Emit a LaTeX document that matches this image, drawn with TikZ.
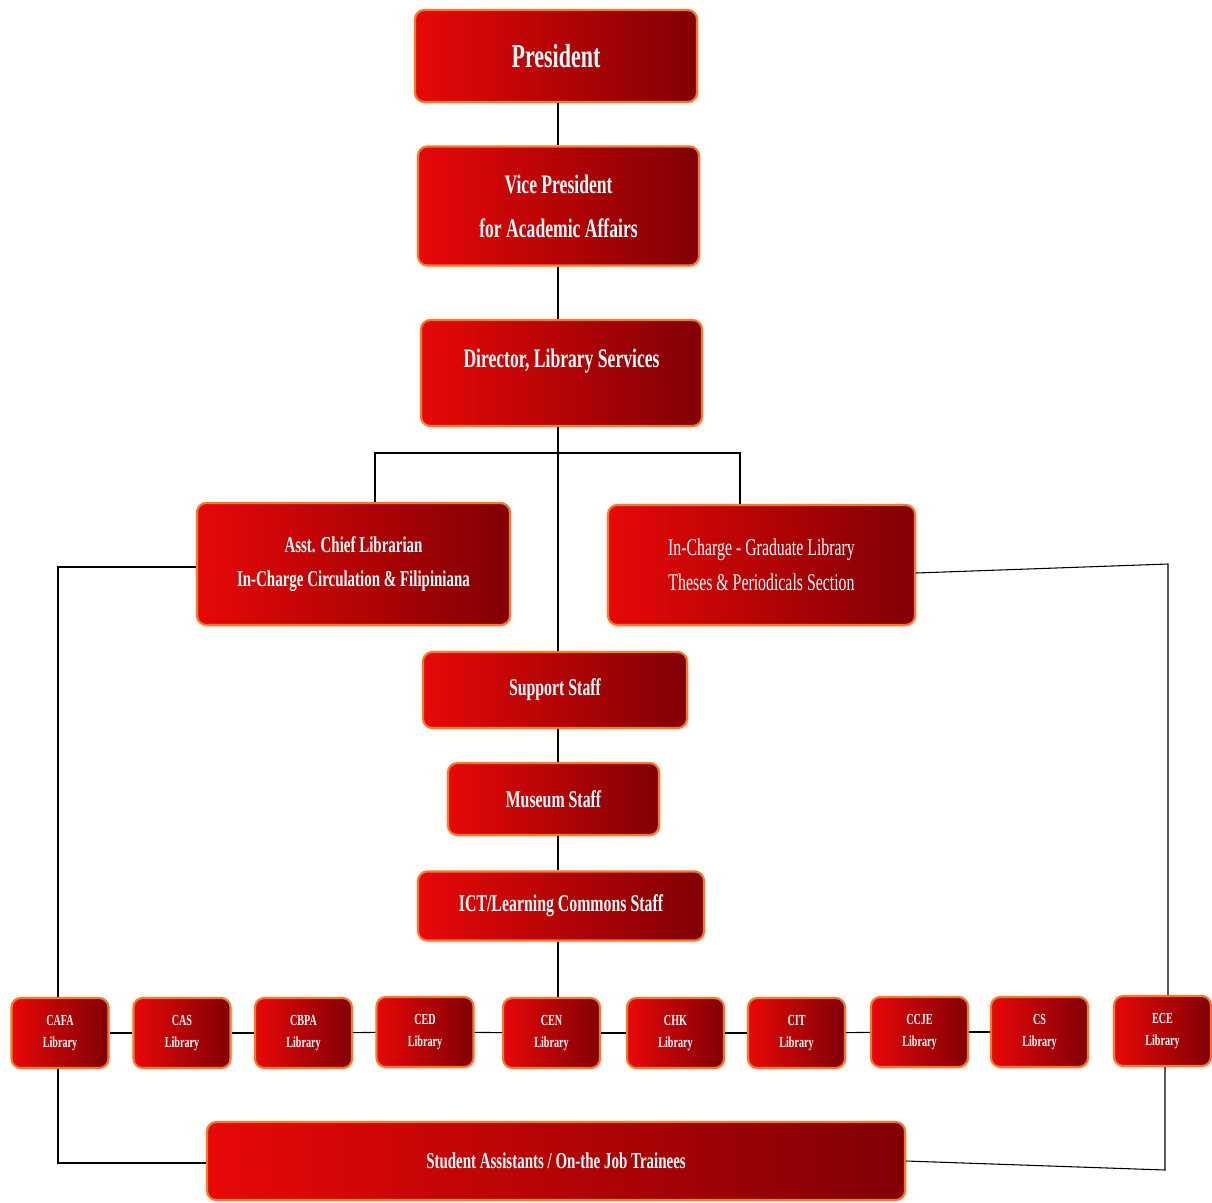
\documentclass[tikz,border=0pt]{standalone}
\usepackage{fontspec}
\usepackage{tikz}
\usetikzlibrary{shadows}
\newfontfamily\boxfont[FakeStretch=0.66]{Liberation Serif}
\definecolor{boxred}{RGB}{232,8,8}
\definecolor{boxdark}{RGB}{128,0,4}
\definecolor{boxrim}{RGB}{246,120,40}
\tikzset{
  box/.style={rounded corners=7pt, draw=boxrim, line width=1.6pt,
    left color=boxred, right color=boxdark, text=white, align=center,
    font=\boxfont\bfseries, inner sep=2pt,
    drop shadow={opacity=0.18, shadow xshift=1.5pt, shadow yshift=-1.5pt}},
  libbox/.style={box, minimum width=72.75pt, minimum height=52.5pt,
    font=\boxfont\bfseries\fontsize{11.5}{16}\selectfont},
  link/.style={draw=black, line width=0.8pt}
}

\begin{document}
\begin{tikzpicture}[x=0.75pt,y=0.75pt,yscale=-1,xscale=1]
\useasboundingbox (0,0) rectangle (1212,1202);
%Spine of the chart
\coordinate (spine) at (558,0);

%Rounded Rect [President]
\node[box, minimum width=211.5pt, minimum height=69pt, font=\boxfont\bfseries\fontsize{25}{27}\selectfont] (pres) at (556,56) {President};
%Rounded Rect [Vice President]
\node[box, minimum width=210.75pt, minimum height=89.25pt, font=\boxfont\bfseries\fontsize{20}{33}\selectfont] (vpaa) at (558.5,206) {Vice President\\for Academic Affairs};
%Rounded Rect [Director]
\node[box, minimum width=210.75pt, minimum height=79.5pt, font=\boxfont\bfseries\fontsize{20}{24}\selectfont, text depth=22pt] (dir) at (561.5,373) {Director, Library Services};
%Rounded Rect [Asst. Chief]
\node[box, minimum width=234.75pt, minimum height=91.5pt, font=\boxfont\bfseries\fontsize{17}{26}\selectfont] (asst) at (353.5,564) {Asst. Chief Librarian\\In-Charge Circulation \& Filipiniana};
%Rounded Rect [Graduate Library]
\node[box, minimum width=230.25pt, minimum height=90pt, font=\boxfont\fontsize{18}{26}\selectfont] (grad) at (761.5,565) {In-Charge - Graduate Library\\Theses \& Periodicals Section};
%Rounded Rect [Support Staff]
\node[box, minimum width=198pt, minimum height=57pt, font=\boxfont\bfseries\fontsize{18}{20}\selectfont] (sup) at (555,690) {Support Staff};
%Rounded Rect [Museum Staff]
\node[box, minimum width=158.25pt, minimum height=54pt, font=\boxfont\bfseries\fontsize{18}{20}\selectfont] (mus) at (553.5,799) {Museum Staff};
%Rounded Rect [ICT]
\node[box, minimum width=214.5pt, minimum height=51.75pt, font=\boxfont\bfseries\fontsize{18}{20}\selectfont] (ict) at (561,906) {ICT/Learning Commons Staff};

%Rounded Rect [College libraries]
\node[libbox] (cafa) at (60,1033) {CAFA\\Library};
\node[libbox] (cas) at (182,1033) {CAS\\Library};
\node[libbox] (cbpa) at (303.5,1033) {CBPA\\Library};
\node[libbox] (ced) at (425,1032) {CED\\Library};
\node[libbox] (cen) at (551.5,1033) {CEN\\Library};
\node[libbox] (chk) at (675.5,1033) {CHK\\Library};
\node[libbox] (cit) at (796.5,1033) {CIT\\Library};
\node[libbox] (ccje) at (919.5,1032) {CCJE\\Library};
\node[libbox] (cs) at (1039.5,1032) {CS\\Library};
\node[libbox] (ece) at (1162.5,1031) {ECE\\Library};

%Rounded Rect [Student Assistants]
\node[box, minimum width=523.5pt, minimum height=58.5pt, font=\boxfont\bfseries\fontsize{17}{20}\selectfont] (stud) at (556,1161) {Student Assistants / On-the Job Trainees};

%Straight Lines [main column]
\draw[link] (pres.south -| spine) -- (vpaa.north -| spine);
\draw[link] (vpaa.south -| spine) -- (dir.north -| spine);
\draw[link] (dir.south -| spine) -- (sup.north -| spine);
\draw[link] (sup.south -| spine) -- (mus.north -| spine);
\draw[link] (mus.south -| spine) -- (ict.north -| spine);
\draw[link] (ict.south -| spine) -- (cen.north -| spine);
%Straight Lines [fork under director]
\coordinate (asstup) at (375,453);
\coordinate (gradup) at (740,453);
\draw[link] (asst.north -| asstup) -- (asstup) -- (gradup) -- (grad.north -| gradup);
%Straight Lines [left loop]
\coordinate (ltop) at (58,567);
\coordinate (lbot) at (58,1163);
\draw[link] (asst.west |- ltop) -- (ltop) -- (cafa.north -| ltop);
\draw[link] (cafa.south -| lbot) -- (lbot) -- (stud.west |- lbot);
%Straight Lines [right loop]
\coordinate (rtop) at (1168,564);
\coordinate (rbot) at (1165,1170);
\draw[link] ([yshift=6pt]grad.east) -- (rtop) -- (ece.north -| rtop);
\draw[link] (ece.south -| rbot) -- (rbot) -- (stud.east);
%Straight Lines [library row]
\draw[link] (cafa) -- (cas);
\draw[link] (cas) -- (cbpa);
\draw[link] (cbpa) -- (ced);
\draw[link] (ced) -- (cen);
\draw[link] (cen) -- (chk);
\draw[link] (chk) -- (cit);
\draw[link] (cit) -- (ccje);
\draw[link] (ccje) -- (cs);
\end{tikzpicture}
\end{document}
